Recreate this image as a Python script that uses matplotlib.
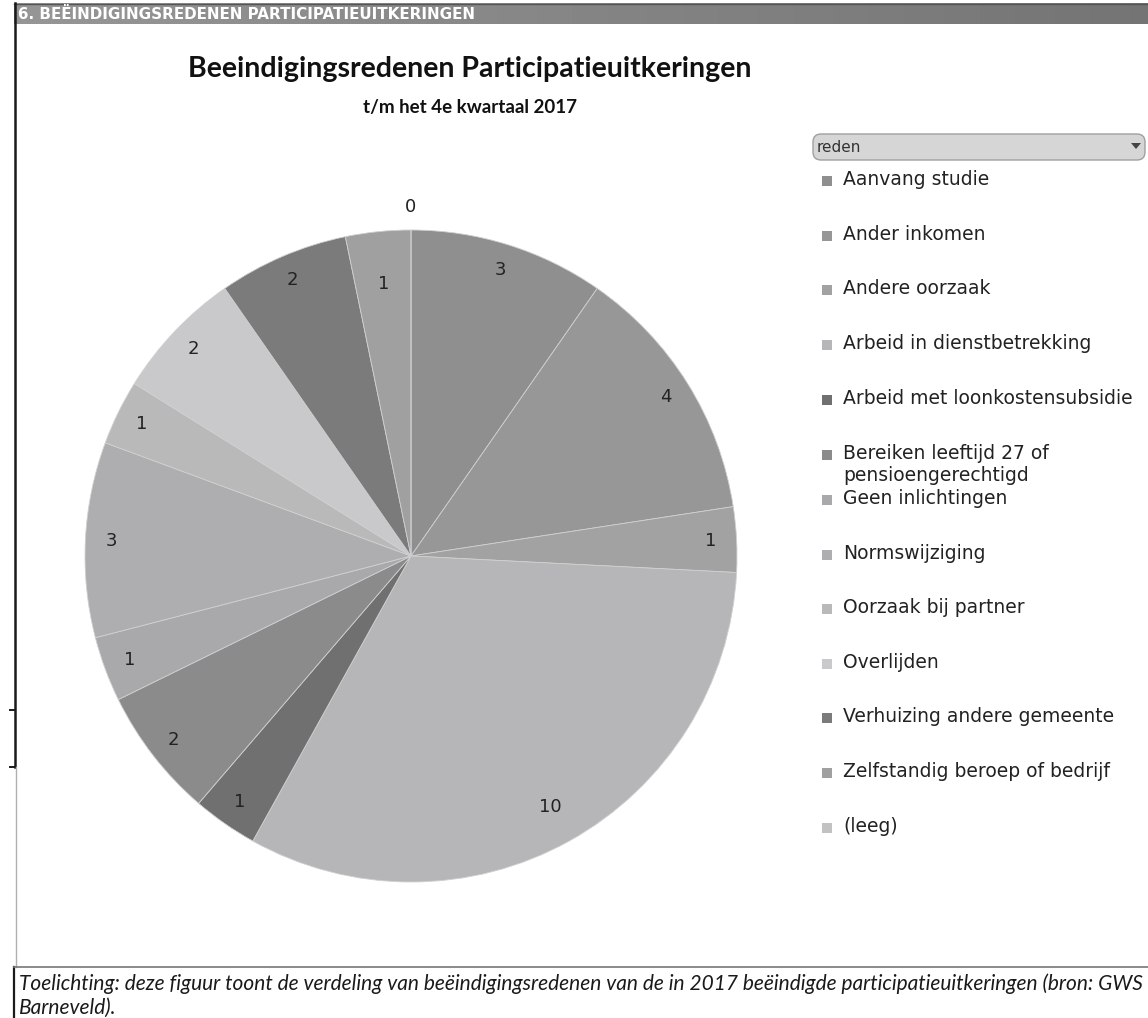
import numpy as np
import matplotlib.pyplot as plt
from matplotlib.patches import Rectangle, FancyBboxPatch, Polygon

# beeindigingsredenen en aantallen (t/m 4e kwartaal 2017)
redenen = ["Aanvang studie", "Ander inkomen", "Andere oorzaak",
           "Arbeid in dienstbetrekking", "Arbeid met loonkostensubsidie",
           "Bereiken leeftijd 27 of\npensioengerechtigd", "Geen inlichtingen",
           "Normswijziging", "Oorzaak bij partner", "Overlijden",
           "Verhuizing andere gemeente", "Zelfstandig beroep of bedrijf",
           "(leeg)"]
aantallen = [3, 4, 1, 10, 1, 2, 1, 3, 1, 2, 2, 1, 0]
kleuren = ["#8f8f8f", "#979797", "#a2a2a2", "#b6b6b9", "#707070",
           "#8b8b8b", "#a9a9ac", "#aeaeb1", "#b9b9b9", "#c9c9cc",
           "#7b7b7b", "#a0a0a0", "#c2c2c2"]
# afstand van de labels tot het midden (fractie van de straal)
label_afstand = [0.92, 0.92, 0.92, 0.88, 0.92, 0.92, 0.92,
                 0.92, 0.92, 0.92, 0.92, 0.84, 1.07]

W, H = 1148, 1018
fig = plt.figure(figsize=(W / 100, H / 100), dpi=100)

# achtergrond-as in pixelcoordinaten voor kader en kopbalk
bg = fig.add_axes([0, 0, 1, 1])
bg.set_xlim(0, W)
bg.set_ylim(H, 0)
bg.axis("off")

grad = np.linspace(0, 1, 256).reshape(1, -1)
bg.imshow(grad, extent=(14, W, 24, 3), cmap="Greys", vmin=-4.2, vmax=4.2,
          aspect="auto", zorder=1)
bg.plot([14, W], [3.5, 3.5], color="#555555", lw=1, zorder=2)
bg.text(18, 14, "6. BEËINDIGINGSREDENEN PARTICIPATIEUITKERINGEN", color="white",
        fontsize=10.9, fontweight="bold", family="DejaVu Sans",
        va="center", ha="left", zorder=3)

# linkerrand
bg.plot([14.5, 14.5], [3, 767], color="#1a1a1a", lw=1.8)
bg.plot([10, 14.5], [710, 710], color="#1a1a1a", lw=1.4)
bg.plot([10, 14.5], [767, 767], color="#1a1a1a", lw=1.4)
bg.plot([15.5, 15.5], [767, 967], color="#b0b0b0", lw=1)
bg.plot([14, 14], [967, H], color="#1a1a1a", lw=1.6)
bg.plot([14, W], [967, 967], color="#777777", lw=1.2)

bg.text(470, 69, "Beeindigingsredenen Participatieuitkeringen", fontsize=20.5,
        fontweight="bold", family="Lato", ha="center", va="center", color="#111111")
bg.text(470, 107, "t/m het 4e kwartaal 2017", fontsize=13.5, fontweight="bold",
        family="Lato", ha="center", va="center", color="#111111")

bg.text(19, 984, "Toelichting: deze figuur toont de verdeling van beëindigingsredenen "
        "van de in 2017 beëindigde participatieuitkeringen (bron: GWS",
        fontsize=15, style="italic", family="Lato", ha="left", va="center", color="#1a1a1a")
bg.text(19, 1008, "Barneveld).", fontsize=15, style="italic", family="Lato",
        ha="left", va="center", color="#1a1a1a")

# legenda-kop 'reden'
box = FancyBboxPatch((813, 134), 332, 26, boxstyle="round,pad=0,rounding_size=8",
                     facecolor="#d6d6d6", edgecolor="#a0a0a0", lw=1)
bg.add_patch(box)
bg.text(817, 147, "reden", fontsize=11, family="DejaVu Sans", va="center",
        ha="left", color="#333333")
bg.add_patch(Polygon([[1131, 143], [1141, 143], [1136, 149]], closed=True,
                     facecolor="#444444", edgecolor="none"))

# taartdiagram
cx, cy, r = 411, 556, 326
ax = fig.add_axes([(cx - r) / W, 1 - (cy + r) / H, 2 * r / W, 2 * r / H])
wedges, _ = ax.pie(aantallen, colors=kleuren, startangle=90, counterclock=False,
                   wedgeprops=dict(edgecolor="#d0d0d0", linewidth=0.6))
ax.set_xlim(-1, 1)
ax.set_ylim(-1, 1)
ax.set_aspect("equal")

for w, n, d in zip(wedges, aantallen, label_afstand):
    hoek = np.deg2rad((w.theta1 + w.theta2) / 2)
    ax.text(d * np.cos(hoek), d * np.sin(hoek), str(n), ha="center", va="center",
            fontsize=13, color="#222222", family="DejaVu Sans")

# legenda met de kleuren van de taartpunten
ypos = [181, 236, 290, 345, 400, 455, 500, 555, 609, 664, 718, 773, 828]
for w, naam, y in zip(wedges, redenen, ypos):
    bg.add_patch(Rectangle((822, y - 5), 10, 10, facecolor=w.get_facecolor(),
                           edgecolor="none"))
    bg.text(843, y - 11, naam, fontsize=13.5, family="DejaVu Sans", ha="left",
            va="top", color="#222222", linespacing=1.2)

fig.savefig("out.png", dpi=100)
